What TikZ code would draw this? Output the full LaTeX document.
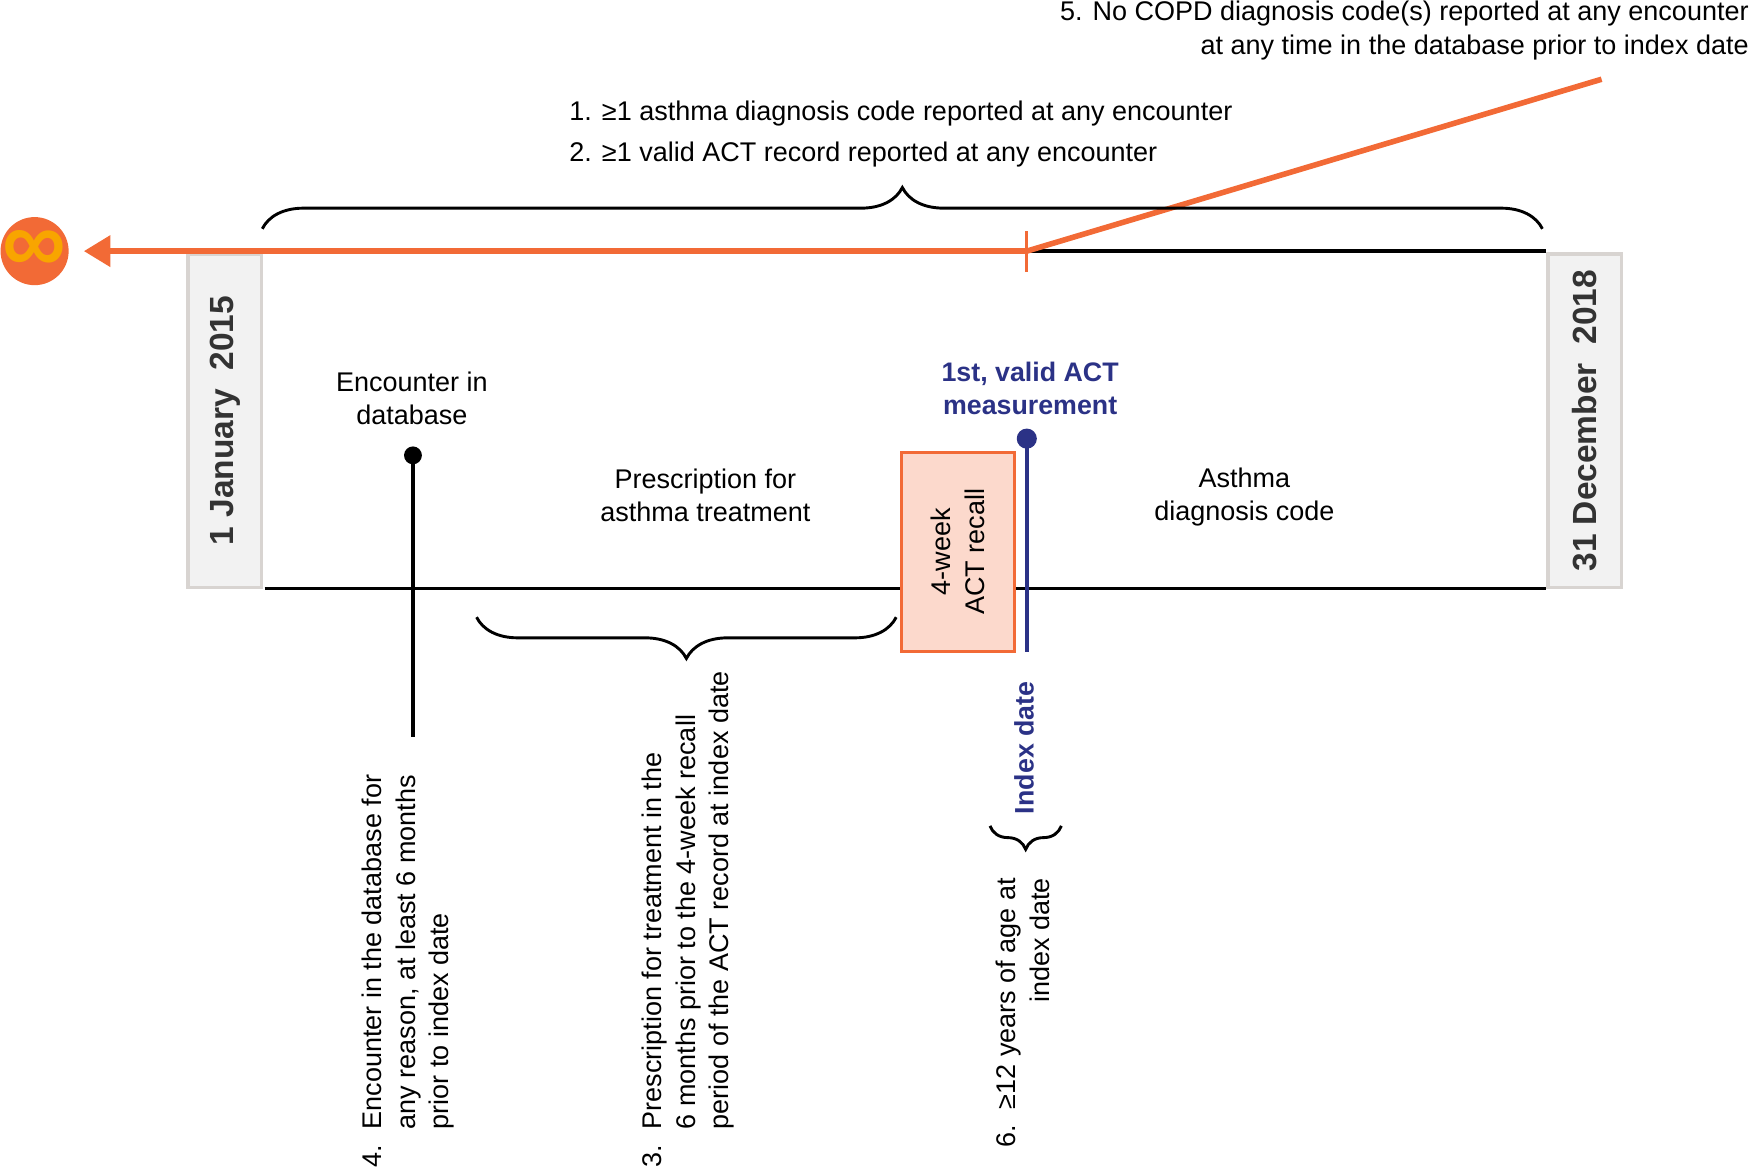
\documentclass[tikz,border=0pt]{standalone}
\usepackage{fontspec}
\setmainfont{Liberation Sans}
\usetikzlibrary{arrows.meta,decorations.pathreplacing}

\definecolor{actorange}{HTML}{F26A36}
\definecolor{actyellow}{HTML}{F8A500}
\definecolor{actnavy}{HTML}{2B3286}
\definecolor{actpink}{HTML}{FCD9CC}
\definecolor{dategray}{HTML}{F2F2F2}
\definecolor{dateline}{HTML}{D8D4D1}
\definecolor{datetext}{HTML}{333333}

\tikzset{
  txt/.style={font=\fontsize{24.2}{30}\selectfont, inner sep=0pt},
  datebox/.style={draw=dateline, fill=dategray, line width=3pt, rotate=90,
    minimum width=299pt, minimum height=66pt, inner sep=0pt, text=datetext,
    font=\fontsize{30}{36}\selectfont\bfseries},
  timeline/.style={line width=3pt},
  bracket/.style={line width=2.6pt, decorate, decoration={brace, amplitude=#1}},
  dot/.style={circle, fill=#1, inner sep=0pt},
}

\begin{document}
\begin{tikzpicture}[x=1pt, y=-1pt]
\useasboundingbox (0,0) rectangle (1568,1047);

% study period
\coordinate (tl) at (237,225);
\coordinate (tr) at (1385,225);
\coordinate (bl) at (237,527);
\coordinate (br) at (1385,527);
\draw[timeline] (tl) -- (tr);
\draw[timeline] (bl) -- (br);
\node[datebox] (start) at (201.5,377) {1 January\ \ 2015};
\node[datebox] (end) at (1420,377) {31 December\ \ 2018};

% look-back to start of database
\node[dot=actorange, minimum size=61pt] (inf) at (31,225) {};
\node[text=actyellow, inner sep=0pt, font=\fontsize{80}{80}\selectfont\bfseries] (infsym) at (inf) {∞};
\coordinate (idx) at (920,225);
\coordinate (lookback) at (75,225);
\coordinate (copd) at (1435,71);
\draw[actorange, line width=6pt, -{Triangle[length=24pt, width=27pt]}] (idx) -- (lookback);
\draw[actorange, line width=3pt] (920,207) -- (920,244);
\draw[actorange, line width=5pt] (idx) -- (copd);

% braces
\draw[bracket=37pt] (235,205) -- (1382,205);
\draw[bracket=37pt] (803,553) -- (427,553);
\draw[bracket=21pt] (951,740) -- (887,740);

% events
\node[dot=black, minimum size=16pt] (encdot) at (370,408) {};
\coordinate (encend) at (370,660);
\draw[line width=3pt] (encdot.center) -- (encend);

\node[draw=actorange, fill=actpink, line width=2.5pt, rotate=90, minimum width=178pt,
  minimum height=101pt, inner sep=0pt, align=center, txt] (recall) at (858.3,494.4) {4-week\\ACT recall};

\node[dot=actnavy, minimum size=18pt] (actdot) at (920,393) {};
\coordinate (actend) at (920,584);
\draw[actnavy, line width=3.5pt] (actdot.center) -- (actend);

% labels
\node[txt, anchor=base] (enclbl) at (369,350.5) {\begin{tabular}[t]{@{}c@{}}Encounter in\\database\end{tabular}};
\node[txt, anchor=base] (rxlbl) at (632,437.5) {\begin{tabular}[t]{@{}c@{}}Prescription for\\asthma treatment\end{tabular}};
\node[txt, anchor=base] (dxlbl) at (1115,436.5) {\begin{tabular}[t]{@{}c@{}}Asthma\\diagnosis code\end{tabular}};
\node[txt, anchor=base, text=actnavy, font=\fontsize{24}{30}\selectfont\bfseries] (actlbl) at (923,341.5)
  {\begin{tabular}[t]{@{}c@{}}1st, valid ACT\\measurement\end{tabular}};
\node[txt, rotate=90, text=actnavy, font=\fontsize{24}{30}\selectfont\bfseries] (idxlbl) at (917.5,670) {Index date};

% criteria
\node[txt, anchor=base west] (crit1) at (510,108) {1. ≥1 asthma diagnosis code reported at any encounter};
\node[txt, anchor=base west] (crit2) at (510,145) {2. ≥1 valid ACT record reported at any encounter};
\node[txt, anchor=base east] (crit5) at (1567,18.5)
  {\begin{tabular}[t]{@{}r@{}}5. No COPD diagnosis code(s) reported at any encounter\\at any time in the database prior to index date\end{tabular}};
\node[txt, rotate=90, anchor=base west] (crit4) at (342,1046)
  {\begin{tabular}[t]{@{}l@{}l@{}}\makebox[34pt][l]{4.}&Encounter in the database for\\&any reason, at least 6 months\\&prior to index date\end{tabular}};
\node[txt, rotate=90, anchor=base west] (crit3) at (593,1046)
  {\begin{tabular}[t]{@{}l@{}l@{}}\makebox[34pt][l]{3.}&Prescription for treatment in the\\&6 months prior to the 4-week recall\\&period of the ACT record at index date\end{tabular}};
\node[txt, rotate=90, anchor=base west] (crit6) at (910,1028)
  {\begin{tabular}[t]{@{}l@{}r@{}}\makebox[34pt][l]{6.}&≥12 years of age at\\&index date\end{tabular}};
\end{tikzpicture}
\end{document}
